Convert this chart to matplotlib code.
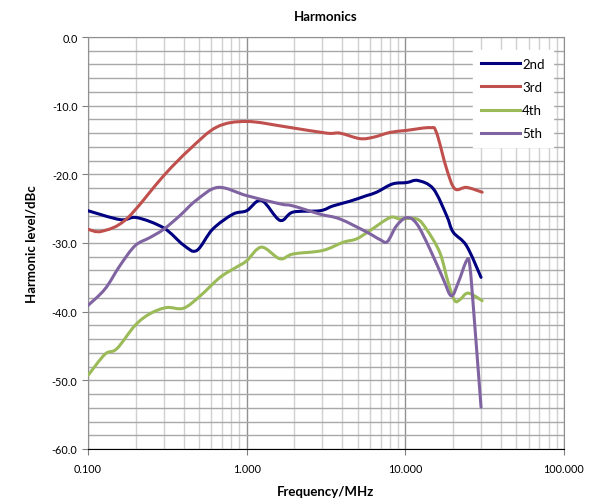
import matplotlib
matplotlib.use('Agg')
import matplotlib.pyplot as plt
import numpy as np
from matplotlib.path import Path
from matplotlib.patches import PathPatch
from matplotlib.lines import Line2D
from matplotlib.ticker import FixedLocator, FuncFormatter, NullFormatter, LogLocator

plt.rcParams['font.family'] = ['Lato', 'DejaVu Sans']

# 读图得到的数据（频率 MHz，电平 dBc）
f2 = [0.1, 0.16, 0.203, 0.3, 0.4, 0.484, 0.61, 0.82, 1.0, 1.24, 1.62, 1.96, 2.9, 3.5, 4.5, 5.7,
      6.6, 8.3, 10.2, 12.0, 15.0, 18.2, 20.0, 24.3, 30.0]
h2 = [-25.3, -26.6, -26.3, -27.8, -30.3, -31.1, -28.0, -25.8, -25.3, -23.8, -26.7, -25.5, -25.3,
      -24.6, -23.9, -23.1, -22.6, -21.4, -21.2, -20.9, -22.1, -26.0, -28.4, -30.4, -35.0]

f3 = [0.1, 0.122, 0.175, 0.3, 0.44, 0.65, 1.0, 1.79, 3.19, 3.87, 5.17, 6.28, 8.0, 10.2, 14.3,
      15.7, 18.2, 20.5, 24.3, 30.5]
h3 = [-28.0, -28.3, -26.5, -20.2, -16.3, -13.1, -12.3, -13.1, -14.0, -14.0, -14.8, -14.6, -13.9,
      -13.6, -13.2, -13.9, -19.2, -22.1, -21.9, -22.6]

f4 = [0.1, 0.128, 0.152, 0.198, 0.246, 0.313, 0.4, 0.51, 0.68, 0.865, 1.0, 1.24, 1.62, 1.96, 3.0,
      4.05, 4.93, 5.98, 8.0, 9.25, 11.8, 13.6, 16.5, 18.6, 20.5, 22.2, 24.9, 30.5]
h4 = [-49.3, -46.2, -45.4, -42.0, -40.3, -39.4, -39.5, -37.7, -35.0, -33.5, -32.6, -30.6, -32.3,
      -31.6, -31.1, -29.9, -29.4, -28.2, -26.3, -26.5, -26.5, -28.0, -31.4, -35.7, -38.4, -38.2,
      -37.3, -38.4]

f5 = [0.1, 0.128, 0.159, 0.198, 0.246, 0.3, 0.38, 0.48, 0.66, 1.0, 1.62, 1.96, 2.9, 3.87, 5.7,
      6.92, 7.7, 8.8, 10.2, 11.8, 14.3, 17.3, 19.5, 21.6, 24.3, 25.5, 27.4, 30.0]
h5 = [-39.1, -36.7, -33.3, -30.4, -29.2, -28.0, -26.0, -23.8, -21.9, -23.1, -24.3, -24.6, -25.8,
      -26.5, -28.4, -29.5, -29.8, -27.5, -26.3, -27.2, -30.9, -35.2, -37.7, -35.7, -32.6, -33.3,
      -42.0, -53.9]

series = [('2nd', f2, h2, '#000080'), ('3rd', f3, h3, '#C0504D'),
          ('4th', f4, h4, '#9BBB59'), ('5th', f5, h5, '#8064A2')]


def smooth_path(xs, ys):
    # 类似 Excel 平滑线：Catmull-Rom 转贝塞尔（在 log x 空间中）
    lx = np.log10(xs)
    y = np.asarray(ys, float)
    n = len(lx)
    verts = [(xs[0], y[0])]
    codes = [Path.MOVETO]
    for i in range(n - 1):
        i0 = max(i - 1, 0)
        i3 = min(i + 2, n - 1)
        c1x = lx[i] + (lx[i + 1] - lx[i0]) / 6.0
        c1y = y[i] + (y[i + 1] - y[i0]) / 6.0
        c2x = lx[i + 1] - (lx[i3] - lx[i]) / 6.0
        c2y = y[i + 1] - (y[i3] - y[i]) / 6.0
        verts += [(10 ** c1x, c1y), (10 ** c2x, c2y), (xs[i + 1], y[i + 1])]
        codes += [Path.CURVE4] * 3
    return Path(verts, codes)


fig = plt.figure(figsize=(5.92, 5.02), dpi=100)
ax = fig.add_axes([0.1486, 0.1036, 0.8041, 0.8207])

ax.set_xscale('log')
ax.set_xlim(0.1, 100)
ax.set_ylim(-60, 0)

handles = []
for name, xs, ys, col in series:
    ax.add_patch(PathPatch(smooth_path(xs, ys), facecolor='none', edgecolor=col, lw=2.2,
                           capstyle='round', joinstyle='round', zorder=3))
    handles.append(Line2D([], [], color=col, lw=2.2, label=name))

# 网格
ax.xaxis.set_major_locator(FixedLocator([0.1, 1, 10, 100]))
ax.xaxis.set_minor_locator(LogLocator(base=10, subs=range(2, 10)))
ax.xaxis.set_minor_formatter(NullFormatter())
ax.xaxis.set_major_formatter(FuncFormatter(lambda v, p: '%.3f' % v))
ax.yaxis.set_major_locator(FixedLocator(range(-60, 1, 10)))
ax.yaxis.set_minor_locator(FixedLocator(range(-60, 1, 2)))
ax.yaxis.set_major_formatter(FuncFormatter(lambda v, p: '%.1f' % v))

ax.grid(True, which='minor', axis='x', color='#d0d0d0', lw=1.0)
ax.grid(True, which='major', axis='x', color='#909090', lw=1.0)
ax.grid(True, which='both', axis='y', color='#a8a8a8', lw=1.0)
ax.set_axisbelow(True)

ax.tick_params(axis='both', which='major', labelsize=7.8, length=4, color='#808080', direction='out')
ax.tick_params(axis='both', which='minor', length=0)
ax.tick_params(axis='x', pad=6)

for s in ['top', 'right', 'left']:
    ax.spines[s].set_color('#909090')
ax.spines['bottom'].set_color('black')

ax.set_title('Harmonics', fontsize=9.5, fontweight='bold', pad=12)
ax.set_xlabel('Frequency/MHz', fontsize=9.5, fontweight='bold', labelpad=8)
ax.set_ylabel('Harmonic level/dBc', fontsize=9.5, fontweight='bold', labelpad=10)

leg = ax.legend(handles=handles, loc='upper right', bbox_to_anchor=(0.99, 0.985), fontsize=9.5,
                frameon=True, fancybox=False, framealpha=1, edgecolor='white', handlelength=2.9,
                labelspacing=0.85, borderpad=0.6, handletextpad=0.2)

plt.savefig('out.png')
